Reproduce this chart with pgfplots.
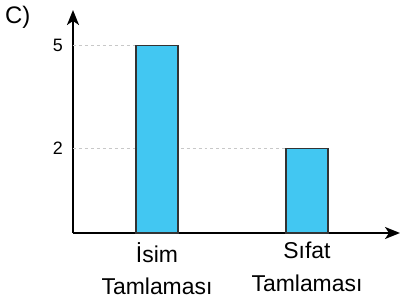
\documentclass[border=0pt]{standalone}
\usepackage{pgfplots}
\pgfplotsset{compat=1.18}
\usetikzlibrary{arrows.meta}
\usepackage{fontspec}
\setmainfont{Liberation Sans}
\definecolor{barblue}{RGB}{66,199,242}
\definecolor{gridgray}{RGB}{200,200,200}
\begin{document}
\begin{tikzpicture}
\path (-73bp,-68bp) rectangle (330bp,233bp);
\begin{axis}[
  at={(0,0)}, anchor=south west,
  scale only axis, width=327bp, height=223bp,
  xmin=0.44, xmax=2.62, ymin=-0.48, ymax=6.05,
  axis lines*=left,
  axis line style={line width=2bp, -{Stealth[length=15bp,width=12bp,inset=4bp]}},
  clip=false,
  xtick={1,2}, xticklabels={İsim\\Tamlaması, Sıfat\\Tamlaması},
  ytick={2,5}, yticklabels={2,5},
  major tick length=0pt,
  xticklabel style={align=center, font=\fontsize{23}{33}\selectfont, inner sep=0pt, anchor=north, yshift=-9bp},
  yticklabel style={font=\fontsize{18}{20}\selectfont, inner sep=0pt, anchor=east, xshift=-10bp},
]
\addplot[gridgray, dashed, line width=0.8bp] coordinates {(0.44,5) (0.86,5)};
\addplot[gridgray, dashed, line width=0.8bp] coordinates {(0.44,2) (1.86,2)};
\addplot[fill=barblue, draw=black!80, line width=1.1bp] coordinates {(0.86,-0.48) (0.86,5) (1.14,5) (1.14,-0.48)} -- cycle;
\addplot[fill=barblue, draw=black!80, line width=1.1bp] coordinates {(1.86,-0.48) (1.86,2) (2.14,2) (2.14,-0.48)} -- cycle;
\node[anchor=north west, inner sep=0pt, font=\fontsize{24}{28}\selectfont] at (rel axis cs:-0.208,1.02) {C)};
\end{axis}
\end{tikzpicture}
\end{document}
